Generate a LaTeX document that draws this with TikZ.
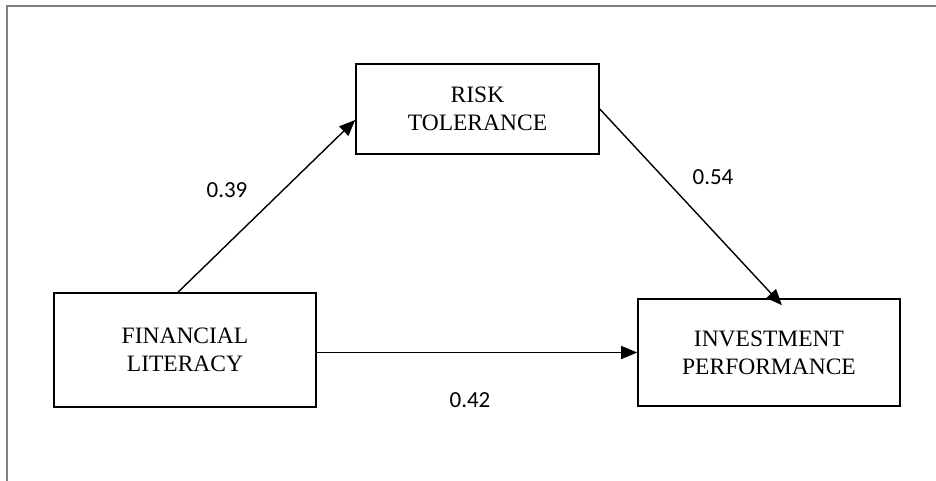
\documentclass[tikz,border=0pt]{standalone}
\usepackage{fontspec}
\setmainfont{Liberation Serif}
\newfontfamily\numfont{Carlito}
\usetikzlibrary{arrows.meta}
\begin{document}
\begin{tikzpicture}[x=1pt,y=-1pt,
  box/.style={draw, line width=1.6pt, align=center, font=\fontsize{23.5}{28}\selectfont, inner sep=0pt},
  arr/.style={line width=1.4pt, -{Triangle[length=16pt,width=13pt]}},
  lbl/.style={font=\numfont\fontsize{23}{28}\selectfont, inner sep=0pt}]
\useasboundingbox (0,0) rectangle (936,480);
\draw[gray, line width=1.4pt] (7,481) -- (7,6) -- (937,6);
\node[box, minimum width=243pt, minimum height=90pt] (rt) at (477.5,109) {RISK\\TOLERANCE};
\node[box, minimum width=262pt, minimum height=114pt] (fl) at (185,350) {FINANCIAL\\LITERACY};
\node[box, minimum width=262pt, minimum height=107pt] (ip) at (769,352.5) {INVESTMENT\\PERFORMANCE};
\coordinate (a1s) at ([xshift=-7pt]fl.north);
\coordinate (a1e) at ([yshift=-11pt]rt.west);
\coordinate (a2e) at ([xshift=13pt,yshift=-7pt]ip.north);
\draw[arr] (a1s) -- (a1e);
\draw[arr] (rt.east) -- (a2e);
\draw[arr] (fl.east |- ip.west) -- (ip.west);
\node[lbl] (l1) at (227,190) {0.39};
\node[lbl] (l2) at (713,177) {0.54};
\node[lbl] (l3) at (470,400) {0.42};
\end{tikzpicture}
\end{document}
